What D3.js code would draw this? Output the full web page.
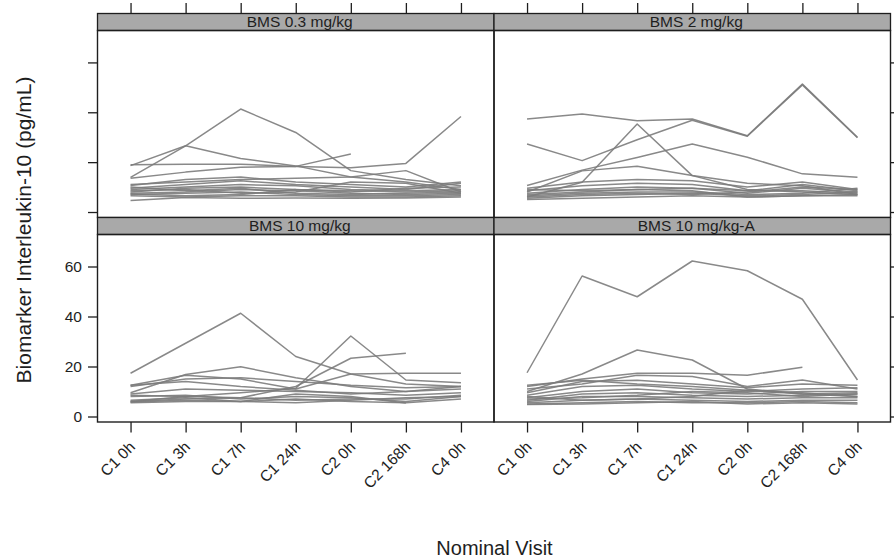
<!DOCTYPE html>
<html>
<head>
<meta charset="utf-8">
<script src="https://cdn.jsdelivr.net/npm/d3@7"></script>
<style>
  html, body { margin: 0; padding: 0; background: #fff; }
  svg { display: block; font-family: "Liberation Sans", Arial, sans-serif; }
</style>
</head>
<body>
<svg id="chart" width="894" height="560"></svg>
<script>
// Nominal visits on the x axis
const visits = ["C1 0h", "C1 3h", "C1 7h", "C1 24h", "C2 0h", "C2 168h", "C4 0h"];
// Panel strip titles (dose groups), in drawing order: top-left, top-right, bottom-left, bottom-right
const panelTitles = ["BMS 0.3 mg/kg", "BMS 2 mg/kg", "BMS 10 mg/kg", "BMS 10 mg/kg-A"];
const yTicks = [0, 20, 40, 60];

// Interleukin-10 (pg/mL) per subject, one array per subject, values at each visit (null = not sampled)
const dose03 = [
  [13.9, 26.5, 41.3, 31.9, 16.6, 13, 10.5],
  [18.6, 26.6, 21.5, 18.5, 14, 12, 9],
  [19, 19.2, 19.2, 18.3, 17.8, 19.5, 38.3],
  [13.5, 16, 18, 18.3, 23.3, null, null],
  [11, 12, 13, 13.5, 14, 16.6, 8],
  [10.6, 13, 14, 12, 11, 10, 12],
  [9.5, 11, 12.5, 11, 10, 9, 11.5],
  [9, 10, 11, 10.5, 9, 8.5, 9],
  [8, 9.5, 10, 9, 8.5, 8, 8.5],
  [7.5, 8, 9, 8.5, 7.5, 7, 7.5],
  [7, 7.5, 8, 7, 6.5, 6.5, 7],
  [6.5, 6, 6.5, 6.5, 6, 6, 6.5],
  [4.6, 5.8, 5.5, 5.6, 5.5, 5.6, 6],
  [8.5, 9, 7.5, 8, 12, 11.5, 7.5],
  [7.2, 6.5, 7, 9, 8, 9.5, 10],
  [10, 8.5, 9.5, 7.5, 7, 7.5, 8]
];
const dose2 = [
  [37.3, 39.3, 36.6, 37.3, 30.6, 51.3, 30],
  [27.3, 20.6, 29, 36.8, 30.4, 51, 29.8],
  [6, 11.9, 35.3, 14.6, 9, 8, 7],
  [10.6, 16.8, 21.9, 27.3, 22, 15.3, 13.9],
  [8, 16.5, 18.4, 14.6, 11.5, 10.5, 7],
  [9.5, 12, 13, 12.5, 10, 12, 9],
  [8.5, 10.5, 11.5, 11, 8.5, 11, 8.5],
  [7.5, 9, 10, 9.5, 7.5, 9.5, 8],
  [7, 8, 9, 9.5, 8.5, 8.5, 7.5],
  [6.5, 7.5, 8, 8, 7, 7.5, 9.5],
  [5.5, 6.5, 7, 7.5, 6.5, 7, 8],
  [5, 5.5, 6, 6.5, 6, 6.5, 6.5],
  [6, 7, 7.5, 7, 8, 10, 9],
  [9, 8.5, 9, 8.5, 6, 6.5, 7]
];
const dose10 = [
  [17.3, 29.3, 41.3, 24, 17, 13, 12],
  [8.5, 8, 9.5, 11.3, 32.2, 14.6, 13.5],
  [6, 7, 7.5, 12, 23.3, 25.3, null],
  [12.5, 16.5, 15, 11, 17, 17.3, 17.3],
  [9.5, 16.8, 19.9, 15.5, 12, 10, 12],
  [12, 15, 15.5, 14, 12.5, 11.5, 12],
  [12.5, 14, 12, 10.5, 9, 10, 11],
  [9, 11, 10.5, 10, 9.5, 8.5, 9.5],
  [8, 8.5, 7, 8, 7.5, 6, 8],
  [6, 8, 7.5, 6.5, 7, 7, 8.5],
  [5.8, 6.5, 6, 7, 6, 5.5, 7],
  [6.5, 7.5, 6, 9, 8, 5.4, null],
  [5.5, 6, 6, 5.5, 6.5, 7.5, 8]
];
const dose10A = [
  [17.5, 56.2, 47.9, 62.2, 58.3, 46.9, 14.6],
  [10, 17, 26.6, 22.6, 11, 9, 8],
  [12, 15, 17.3, 17.3, 16.5, 19.7, null],
  [11, 13, 16.5, 16, 12, 14.6, 11],
  [9.5, 14, 14.5, 13, 11.5, 13, 12.5],
  [8.5, 12, 12.5, 11, 10, 11, 11.5],
  [7.5, 10, 11, 9.5, 9, 10, 10],
  [6.5, 9, 9.5, 8.5, 8, 8.5, 9],
  [6, 8, 8, 7.5, 7, 7.5, 7.5],
  [5.5, 6.5, 7, 6.5, 6, 6.5, 6.5],
  [5, 5.5, 6, 5.5, 5.5, 6, 5.5],
  [4.8, 5, 5.5, 6, 5, 5.5, 5],
  [7, 7.5, 8.5, 10, 9.5, 8, 9],
  [8, 6.5, 7, 8, 10.5, 9.5, 8],
  [12.5, 14.5, 13, 12, 10.5, 9, 9.5]
];
const panelSeries = [dose03, dose2, dose10, dose10A];

// ---- layout (trellis of 2 x 2 panels with strips) ----
const cols = [{ x0: 97.5, x1: 494 }, { x0: 494, x1: 890.5 }];
const rows = [
  { stripTop: 13.5, plotTop: 30.5, plotBottom: 217.5 },
  { stripTop: 217.5, plotTop: 234.5, plotBottom: 422 }
];
const yDomain = [-2.2, 72.8];
const tickLen = 9.5;
const ink = "#1e1e1e";

const svg = d3.select("#chart");
svg.append("rect").attr("width", 894).attr("height", 560).attr("fill", "#fff");

const defs = svg.append("defs");

const xScales = cols.map(c => d3.scalePoint().domain(visits).range([c.x0, c.x1]).padding(0.6));
const yScales = rows.map(r => d3.scaleLinear().domain(yDomain).range([r.plotBottom, r.plotTop]));

function styleAxis(g) {
  g.select(".domain").remove();
  g.selectAll(".tick line").attr("stroke", ink).attr("stroke-width", 1.3);
  g.selectAll(".tick text").attr("fill", ink).attr("font-size", 15.5)
    .attr("font-family", "'Liberation Sans', Arial, sans-serif");
}

panelSeries.forEach((series, i) => {
  const ci = i % 2, ri = Math.floor(i / 2);
  const c = cols[ci], r = rows[ri];
  const x = xScales[ci], y = yScales[ri];
  const g = svg.append("g");

  // clip lines to the panel area
  const clipId = "clip" + i;
  defs.append("clipPath").attr("id", clipId).append("rect")
    .attr("x", c.x0).attr("y", r.plotTop).attr("width", c.x1 - c.x0).attr("height", r.plotBottom - r.plotTop);

  const line = d3.line()
    .defined(d => d != null)
    .x((d, k) => x(visits[k]))
    .y(d => y(d));

  g.append("g").attr("clip-path", `url(#${clipId})`)
    .selectAll("path").data(series).join("path")
    .attr("d", line)
    .attr("fill", "none")
    .attr("stroke", "#7c7c7c")
    .attr("stroke-opacity", 0.9)
    .attr("stroke-width", 1.5)
    .attr("stroke-linejoin", "round");

  // strip
  g.append("rect")
    .attr("x", c.x0).attr("y", r.stripTop)
    .attr("width", c.x1 - c.x0).attr("height", r.plotTop - r.stripTop)
    .attr("fill", "#a9a9a9")
    .attr("stroke", ink).attr("stroke-width", 1.3);
  g.append("text")
    .attr("x", (c.x0 + c.x1) / 2 + 4)
    .attr("y", (r.stripTop + r.plotTop) / 2 + 5)
    .attr("text-anchor", "middle")
    .attr("font-size", 15.5)
    .attr("fill", ink)
    .text(panelTitles[i]);

  // panel frame
  g.append("rect")
    .attr("x", c.x0).attr("y", r.plotTop)
    .attr("width", c.x1 - c.x0).attr("height", r.plotBottom - r.plotTop)
    .attr("fill", "none").attr("stroke", ink).attr("stroke-width", 1.4);

  // y axes: labels on the left for the bottom row, ticks only elsewhere
  if (ci === 0) {
    const ax = d3.axisLeft(y).tickValues(yTicks).tickSize(tickLen).tickPadding(6)
      .tickFormat(ri === 1 ? d3.format("d") : () => "");
    svg.append("g").attr("transform", `translate(${c.x0},0)`).call(ax).call(styleAxis);
  } else {
    const ax = d3.axisRight(y).tickValues(yTicks).tickSize(tickLen).tickFormat(() => "");
    svg.append("g").attr("transform", `translate(${c.x1},0)`).call(ax).call(styleAxis);
  }

  // x axes: ticks above the top strips, labelled ticks under the bottom row
  if (ri === 0) {
    const ax = d3.axisTop(x).tickSize(tickLen + 1).tickFormat(() => "");
    svg.append("g").attr("transform", `translate(0,${r.stripTop})`).call(ax).call(styleAxis);
  } else {
    const ax = d3.axisBottom(x).tickSize(tickLen + 1).tickPadding(0);
    const axg = svg.append("g").attr("transform", `translate(0,${r.plotBottom})`).call(ax).call(styleAxis);
    axg.selectAll(".tick text")
      .attr("text-anchor", "end")
      .attr("dy", 0)
      .attr("y", 0)
      .attr("transform", "translate(5,26) rotate(-45)");
  }
});

// axis titles
svg.append("text")
  .attr("transform", "translate(31,230) rotate(-90)")
  .attr("text-anchor", "middle")
  .attr("font-size", 21)
  .attr("fill", ink)
  .text("Biomarker Interleukin-10 (pg/mL)");

svg.append("text")
  .attr("x", 494.5).attr("y", 555)
  .attr("text-anchor", "middle")
  .attr("font-size", 20)
  .attr("fill", ink)
  .text("Nominal Visit");
</script>
</body>
</html>
